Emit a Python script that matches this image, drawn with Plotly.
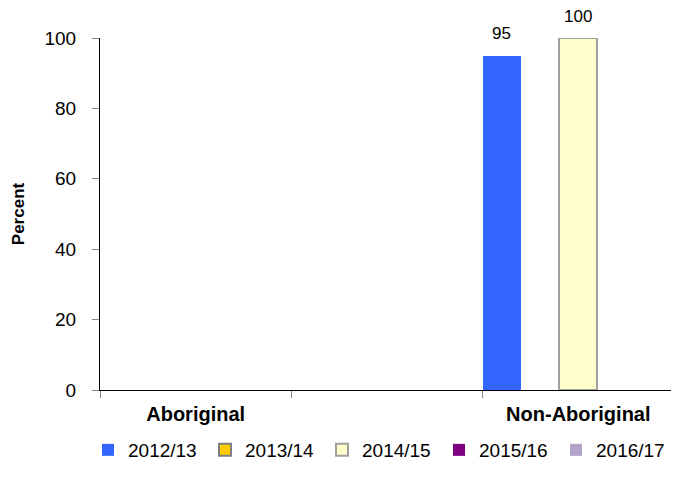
import plotly.graph_objects as go

categories = ["Aboriginal", " ", "Non-Aboriginal"]
series_names = ["2012/13", "2013/14", "2014/15", "2015/16", "2016/17"]
v_2012_13 = [None, None, 95]
v_2013_14 = [None, None, None]
v_2014_15 = [None, None, 100]
v_2015_16 = [None, None, None]
v_2016_17 = [None, None, None]
series_values = [v_2012_13, v_2013_14, v_2014_15, v_2015_16, v_2016_17]
y_ticks = [0, 20, 40, 60, 80, 100]

fills = ["#3366FF", "#FFCC00", "#FFFFCC", "#800080", "#B3A2C7"]
lines = ["#3366FF", "#808080", "#A0A0A0", "#800080", "#B3A2C7"]
line_w = [0, 2, 2, 0, 0]

FONT = "Arial, Liberation Sans, sans-serif"
# the page body adds an 8px margin, so the figure is drawn 8px smaller
W, H = 671, 481
ML, MR, MT, MB = 92, 5, 30, 99
PW, PH = W - ML - MR, H - MT - MB

fig = go.Figure()
for name, vals, fc, lc, lw in zip(series_names, series_values, fills, lines, line_w):
    fig.add_trace(go.Bar(
        name=name, x=categories, y=vals,
        marker=dict(color=fc, line=dict(color=lc, width=lw)),
        cliponaxis=False,
    ))

# data labels above bars (placed with the data coordinates, shifted within the group)
n_series = len(series_names)
bar_px = PW / len(categories) / n_series
for i, vals in enumerate(series_values):
    for c, v in zip(categories, vals):
        if v is None:
            continue
        fig.add_annotation(
            x=c, y=v, xref="x", yref="y", text=f"{v:g}", showarrow=False,
            xshift=(i - (n_series - 1) / 2) * bar_px, yshift=22,
            yanchor="middle", xanchor="center",
            font=dict(family=FONT, size=17, color="black"),
        )

fig.update_layout(
    width=W, height=H,
    margin=dict(l=ML, r=MR, t=MT, b=MB, autoexpand=False),
    paper_bgcolor="white", plot_bgcolor="white",
    barmode="group", bargap=0, bargroupgap=0,
    font=dict(family=FONT, size=16, color="black"),
    showlegend=True,
    legend=dict(
        orientation="h", xref="paper", yref="paper",
        x=(80 - ML) / PW, xanchor="left",
        y=(MT + PH - 442) / PH, yanchor="middle",
        font=dict(family=FONT, size=19, color="black"),
        entrywidth=72, entrywidthmode="pixels",
        itemwidth=30, traceorder="normal",
        bgcolor="rgba(0,0,0,0)",
    ),
)
fig.update_yaxes(
    range=[0, 100], tickvals=y_ticks, ticktext=[str(t) for t in y_ticks],
    showgrid=False, zeroline=False,
    showline=True, linecolor="black", linewidth=1,
    ticks="outside", ticklen=7, tickcolor="#888888", tickwidth=1,
    ticklabelstandoff=12,
    tickfont=dict(family=FONT, size=19, color="black"),
    title=dict(text="<b>Percent</b>", font=dict(family=FONT, size=17, color="black"), standoff=15),
)
fig.update_xaxes(
    type="category", range=[-0.5, 2.5],
    showgrid=False, zeroline=False,
    showline=True, linecolor="black", linewidth=1,
    ticks="outside", tickson="boundaries", ticklen=7, tickcolor="#888888",
    tickfont=dict(family=FONT, size=20, color="black"),
    tickvals=categories, ticktext=[f"<b>{c}</b>" for c in categories],
    ticklabelstandoff=6,
)

fig.write_html("out.html")
